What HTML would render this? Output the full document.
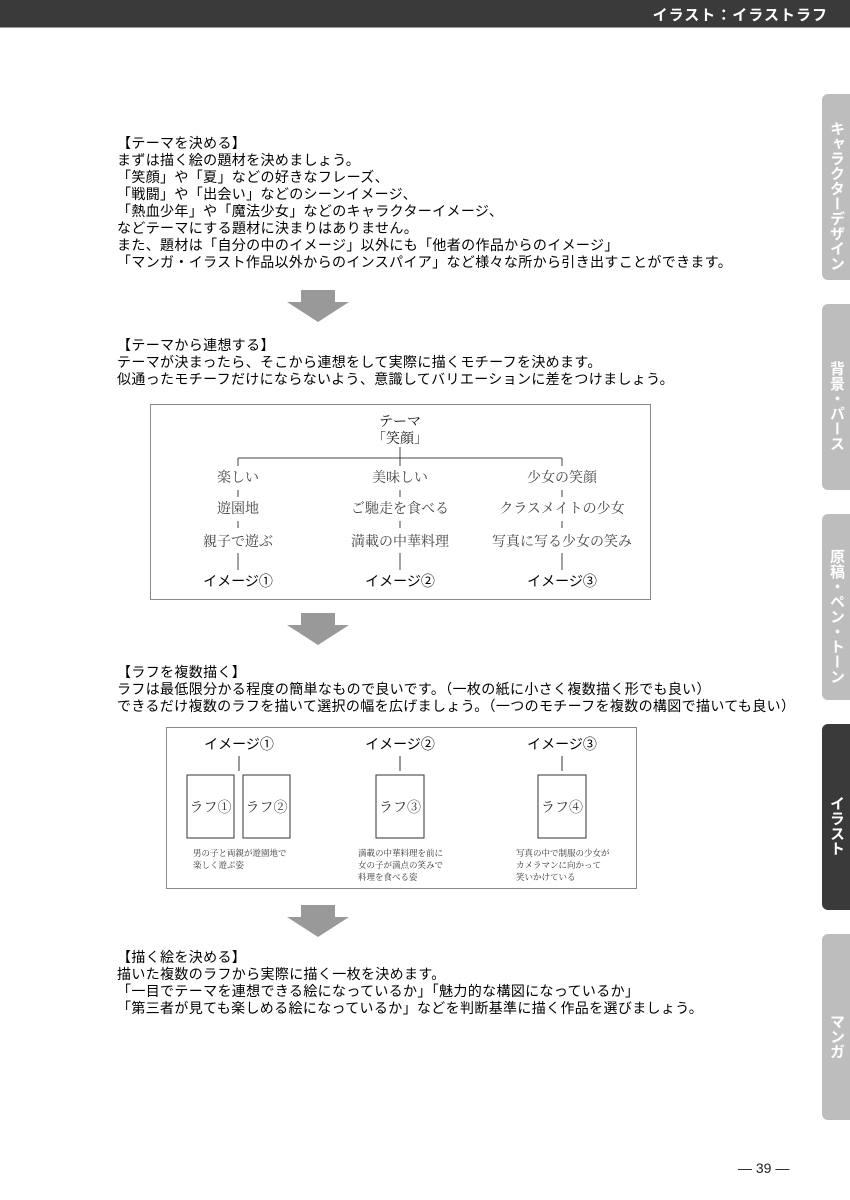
<!DOCTYPE html>
<html><head><meta charset="utf-8"><style>
body{margin:0;width:850px;height:1200px;position:relative;background:#fff;font-family:"Liberation Sans","Noto Sans CJK JP",sans-serif;overflow:hidden}
.hdr{position:absolute;left:0;top:0;width:850px;height:27px;background:#3a3a3a;border-bottom:1px solid #999}
.hdr span{position:absolute;right:22px;top:4px;color:#fff;font-weight:bold;font-size:15px;letter-spacing:1px}
.tab{position:absolute;left:822px;width:28px;height:186px;background:#bdbdbd;border-radius:6px 0 0 6px;color:#fff;font-weight:bold;font-size:15px;writing-mode:vertical-rl;text-align:center;line-height:28px;padding-top:18px;box-sizing:border-box;letter-spacing:0}
.tab.on{background:#3a3a3a}
.t{position:absolute;left:117px;font-size:14px;letter-spacing:0.35px;line-height:17px;color:#000;white-space:nowrap}
.arrow{position:absolute;width:62px;height:32px}
.pg{position:absolute;left:738px;top:1160px;font-size:14px;color:#222}
</style></head><body>
<div class="hdr"><span>イラスト：イラストラフ</span></div>
<div class="tab" style="top:94px">キャラクターデザイン</div>
<div class="tab" style="top:304px">背景・パース</div>
<div class="tab" style="top:514px">原稿・ペン・トーン</div>
<div class="tab on" style="top:724px">イラスト</div>
<div class="tab" style="top:934px">マンガ</div>

<div class="t" style="top:135px">【テーマを決める】<br>まずは描く絵の題材を決めましょう。<br>「笑顔」や「夏」などの好きなフレーズ、<br>「戦闘」や「出会い」などのシーンイメージ、<br>「熱血少年」や「魔法少女」などのキャラクターイメージ、<br>などテーマにする題材に決まりはありません。<br>また、題材は「自分の中のイメージ」以外にも「他者の作品からのイメージ」<br>「マンガ・イラスト作品以外からのインスパイア」など様々な所から引き出すことができます。</div>

<svg class="arrow" style="left:287px;top:290px" viewBox="0 0 62 32"><polygon points="14,0 48,0 48,12 62,12 31,32 0,12 14,12" fill="#999"/></svg>

<div class="t" style="top:337px">【テーマから連想する】<br>テーマが決まったら、そこから連想をして実際に描くモチーフを決めます。<br>似通ったモチーフだけにならないよう、意識してバリエーションに差をつけましょう。</div>

<svg style="position:absolute;left:0;top:0" width="850" height="1200" font-family="'Liberation Serif','Noto Serif CJK SC',serif" font-size="14" text-anchor="middle">
<rect x="150.5" y="404.5" width="500" height="195" fill="none" stroke="#888"/>
<g fill="#111"><text x="400" y="426">テーマ</text><text x="400" y="443">「笑顔」</text></g>
<g stroke="#444" fill="none">
<line x1="400" y1="447" x2="400" y2="458"/><line x1="238" y1="458" x2="562" y2="458"/>
<line x1="238" y1="458" x2="238" y2="466"/><line x1="400" y1="458" x2="400" y2="466"/><line x1="562" y1="458" x2="562" y2="466"/>
<line x1="238" y1="490" x2="238" y2="497"/><line x1="400" y1="490" x2="400" y2="497"/><line x1="562" y1="490" x2="562" y2="497"/>
<line x1="238" y1="521" x2="238" y2="528"/><line x1="400" y1="521" x2="400" y2="528"/><line x1="562" y1="521" x2="562" y2="528"/>
<line x1="238" y1="553" x2="238" y2="570"/><line x1="400" y1="553" x2="400" y2="570"/><line x1="562" y1="553" x2="562" y2="570"/>
</g>
<g fill="#444">
<text x="238" y="482">楽しい</text><text x="400" y="482">美味しい</text><text x="562" y="482">少女の笑顔</text>
<text x="238" y="513">遊園地</text><text x="400" y="513">ご馳走を食べる</text><text x="562" y="513">クラスメイトの少女</text>
<text x="238" y="546">親子で遊ぶ</text><text x="400" y="546">満載の中華料理</text><text x="562" y="546">写真に写る少女の笑み</text>
</g>
<g fill="#000" font-family="'Liberation Sans','Noto Sans CJK JP',sans-serif"><text x="238" y="586">イメージ①</text><text x="400" y="586">イメージ②</text><text x="562" y="586">イメージ③</text></g>

<rect x="166.5" y="727.5" width="470" height="161" fill="none" stroke="#888"/>
<g fill="#000" font-family="'Liberation Sans','Noto Sans CJK JP',sans-serif"><text x="239" y="749">イメージ①</text><text x="400" y="749">イメージ②</text><text x="562" y="749">イメージ③</text></g>
<g stroke="#333" fill="none">
<line x1="239" y1="756" x2="239" y2="771"/><line x1="400" y1="756" x2="400" y2="771"/><line x1="562" y1="756" x2="562" y2="771"/>
<rect x="187" y="775" width="47" height="63"/><rect x="243" y="775" width="47" height="63"/><rect x="376" y="775" width="48" height="63"/><rect x="538" y="775" width="48" height="63"/>
</g>
<g fill="#333" font-size="14"><text x="210.5" y="812">ラフ①</text><text x="266.5" y="812">ラフ②</text><text x="400" y="812">ラフ③</text><text x="562" y="812">ラフ④</text></g>
<g fill="#333" font-size="8.5" text-anchor="start">
<text x="193" y="856">男の子と両親が遊園地で</text><text x="193" y="868">楽しく遊ぶ姿</text>
<text x="358" y="856">満載の中華料理を前に</text><text x="358" y="868">女の子が満点の笑みで</text><text x="358" y="880">料理を食べる姿</text>
<text x="516" y="856">写真の中で制服の少女が</text><text x="516" y="868">カメラマンに向かって</text><text x="516" y="880">笑いかけている</text>
</g>
</svg>

<svg class="arrow" style="left:287px;top:613px" viewBox="0 0 62 32"><polygon points="14,0 48,0 48,12 62,12 31,32 0,12 14,12" fill="#999"/></svg>

<div class="t" style="top:664px">【ラフを複数描く】<br>ラフは最低限分かる程度の簡単なもので良いです。（一枚の紙に小さく複数描く形でも良い）<br>できるだけ複数のラフを描いて選択の幅を広げましょう。（一つのモチーフを複数の構図で描いても良い）</div>

<svg class="arrow" style="left:287px;top:905px" viewBox="0 0 62 32"><polygon points="14,0 48,0 48,12 62,12 31,32 0,12 14,12" fill="#999"/></svg>

<div class="t" style="top:949px">【描く絵を決める】<br>描いた複数のラフから実際に描く一枚を決めます。<br>「一目でテーマを連想できる絵になっているか」「魅力的な構図になっているか」<br>「第三者が見ても楽しめる絵になっているか」などを判断基準に描く作品を選びましょう。</div>

<div class="pg">— 39 —</div>
</body></html>
